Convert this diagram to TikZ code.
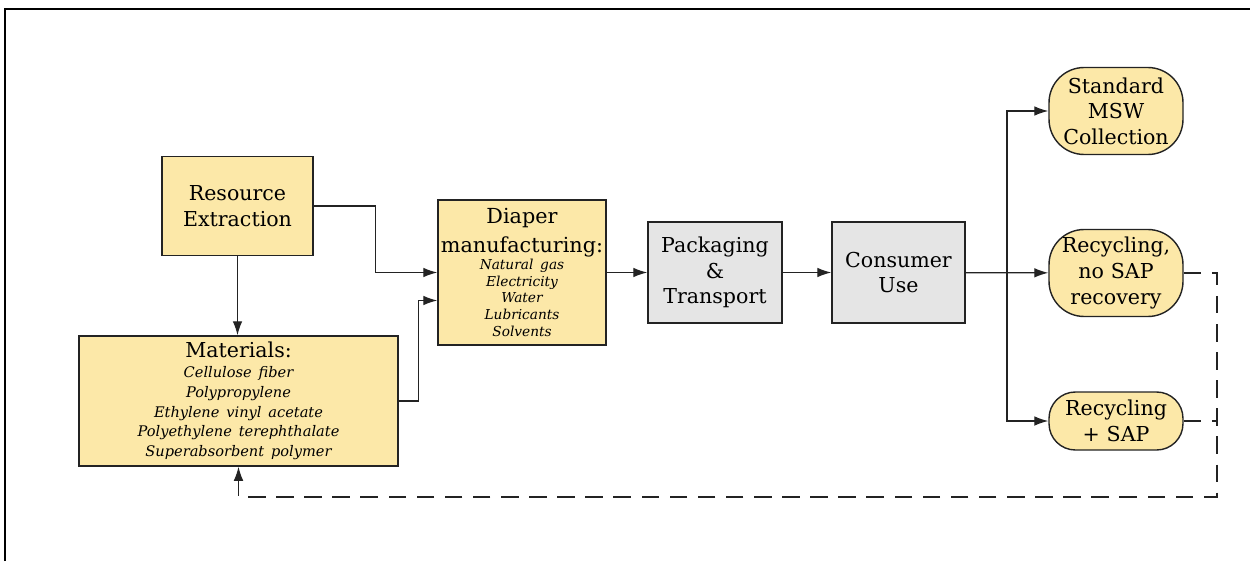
\documentclass[tikz,border=0pt]{standalone}
\usepackage{fontspec}
\setmainfont{DejaVu Serif}
\usepackage{tikz}
\usetikzlibrary{arrows.meta}

\definecolor{boxyellow}{RGB}{252,232,168}
\definecolor{boxgrey}{RGB}{229,229,229}
\definecolor{linegrey}{RGB}{35,35,35}

\newcommand{\headtxt}{\fontsize{11.7}{14.6}\selectfont}
\newcommand{\listtxt}{\fontsize{7.8}{9.6}\selectfont\itshape}

\tikzset{
  >={Latex[length=8pt,width=5.5pt]},
  stagebox/.style={draw=linegrey, line width=0.8pt, inner sep=0pt, align=center, font=\headtxt},
  yellowbox/.style={stagebox, fill=boxyellow},
  greybox/.style={stagebox, fill=boxgrey},
  endbox/.style={yellowbox, minimum width=2.68cm, text width=2.68cm},
  flow/.style={draw=linegrey, line width=0.75pt, ->},
  backflow/.style={draw=linegrey, line width=0.75pt, dash pattern=on 10pt off 6pt}
}

\begin{document}
\begin{tikzpicture}[x=0.02cm, y=-0.02cm]
    \useasboundingbox (0,0) rectangle (1250,561);
    %marco
    \draw[line width=0.8pt] (5,561) -- (5,9) -- (1250,9); %borde arriba e izquierda

    %extraccion y materiales
    \node[yellowbox, minimum width=3.02cm, text width=3.02cm, minimum height=1.98cm] (resource) at (237.5,206) {Resource\\Extraction}; %caja recursos
    \node[yellowbox, minimum width=6.38cm, text width=6.38cm, minimum height=2.6cm] (materials) at (238.5,401)
        {Materials:\par\fontsize{8.3}{11.2}\selectfont\itshape Cellulose fiber\\Polypropylene\\Ethylene vinyl acetate\\Polyethylene terephthalate\\Superabsorbent polymer\par}; %caja materiales

    %fabricacion, empaque, uso
    \node[yellowbox, minimum width=3.36cm, text width=3.36cm, minimum height=2.9cm] (diaper) at (522,272.5)
        {\fontsize{11.8}{16.4}\selectfont Diaper\\manufacturing:\par\listtxt Natural gas\\Electricity\\Water\\Lubricants\\Solvents\par}; %caja fabricacion
    \node[greybox, minimum width=2.68cm, text width=2.68cm, minimum height=2.02cm] (packaging) at (715,272.5) {Packaging\\\&\\Transport}; %caja empaque
    \node[greybox, minimum width=2.66cm, text width=2.66cm, minimum height=2.02cm] (consumer) at (898.5,272.5) {Consumer\\Use}; %caja uso

    %destinos finales
    \node[endbox, rounded corners=20pt, minimum height=1.74cm] (msw) at (1116,111) {Standard\\MSW\\Collection}; %relleno
    \node[endbox, rounded corners=20pt, minimum height=1.74cm] (recnosap) at (1116,273) {Recycling,\\no SAP\\recovery}; %reciclaje sin SAP
    \node[endbox, rounded corners=15pt, minimum height=1.16cm] (recsap) at (1116,421) {Recycling\\+ SAP}; %reciclaje con SAP

    %flechas
    \draw[flow] (resource.south) -- (resource.south |- materials.north); %recursos a materiales
    \draw[flow] (resource.east) -- ++(62,0) |- (diaper.west); %recursos a fabricacion
    \draw[flow] (materials.east) -- ++(20,0) |- ([yshift=-0.56cm]diaper.west); %materiales a fabricacion
    \draw[flow] (diaper) -- (packaging);
    \draw[flow] (packaging) -- (consumer);
    \draw[flow] (consumer) -- (recnosap);
    \coordinate (split) at (1007,273); %punto de division
    \draw[flow] (split) |- (msw);
    \draw[flow] (split) |- (recsap);

    %retorno de SAP
    \coordinate (ret) at (1217,497); %esquina del retorno
    \draw[backflow, ->] (recnosap.east) -| (ret) -| (materials.south);
    \draw[backflow] (recsap.east) -- (recsap.east -| ret);
\end{tikzpicture}
\end{document}
